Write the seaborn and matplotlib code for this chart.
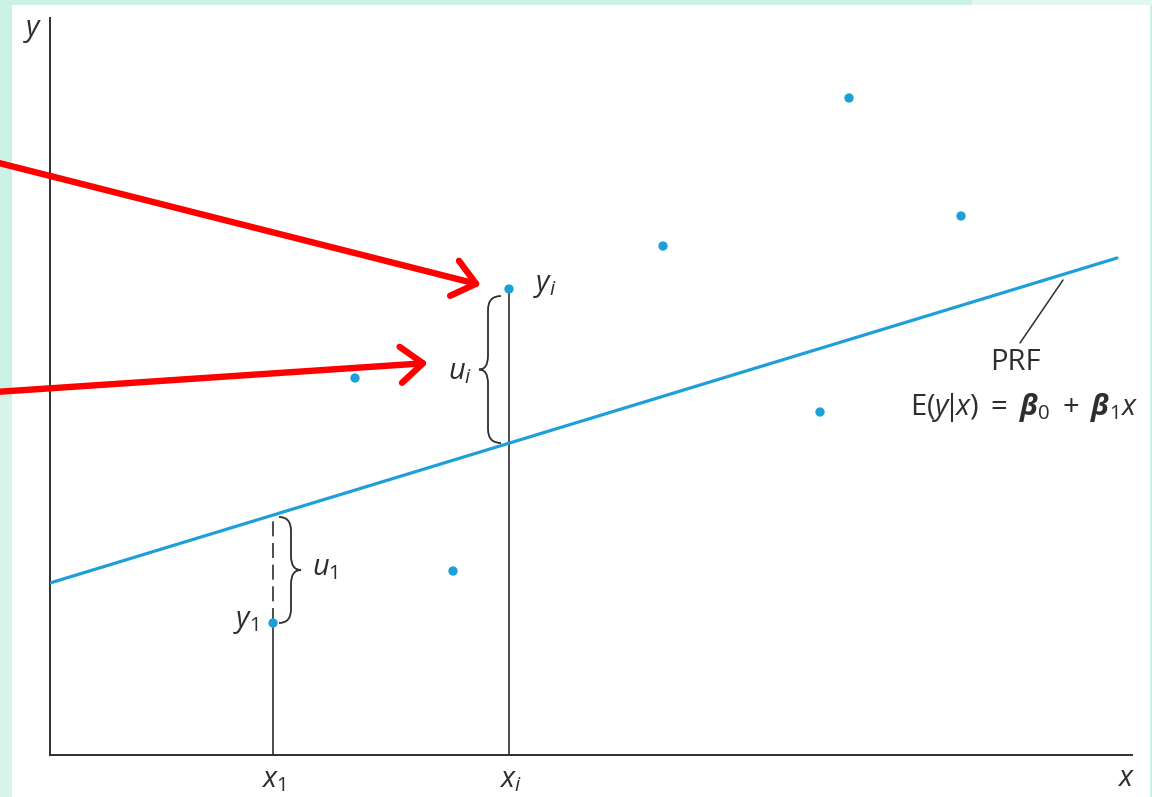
import matplotlib
matplotlib.use("Agg")
import matplotlib.pyplot as plt
from matplotlib.path import Path
from matplotlib.patches import PathPatch, Rectangle
import numpy as np
import seaborn as sns

# sample points, axis units (origin at the corner of the two axes)
POINT_X = [223, 305, 403, 459, 613, 770, 799, 911]
POINT_Y = [132, 377, 184, 466, 509, 343, 657, 539]

# population regression function
PRF_X = [0, 1067]
PRF_Y = [172, 497]

X1, Y1 = 223, 132
XI, YI = 459, 466

BLUE = "#1d9fd9"
INK = "#2e2e2e"
MINT = "#cbf0e6"

sns.set_style("white")
plt.rcParams["font.family"] = ["Open Sans", "DejaVu Sans"]
plt.rcParams["mathtext.fontset"] = "custom"
plt.rcParams["mathtext.rm"] = "Open Sans"
plt.rcParams["mathtext.it"] = "Open Sans:italic"
plt.rcParams["mathtext.bf"] = "Open Sans:bold:italic"

fig = plt.figure(figsize=(11.52, 7.97), dpi=100, facecolor=MINT)
W, H = 1152, 797
fig.patches.append(Rectangle((12 / W, 0), 1138 / W, 792 / H, transform=fig.transFigure,
                             facecolor="white", edgecolor="none", zorder=-2))
fig.patches.append(Rectangle((972 / W, 792 / H), 180 / W, 5 / H, transform=fig.transFigure,
                             facecolor="#e2f6f3", edgecolor="none", zorder=-2))
fig.patches.append(Rectangle((0, 0), 12 / W, 400 / H, transform=fig.transFigure,
                             facecolor="#d8f3eb", edgecolor="none", zorder=-2))

ax = fig.add_axes([50 / W, 42 / H, 1082 / W, 737 / H])
ax.set_zorder(2)
ax.set_xlim(0, 1082)
ax.set_ylim(0, 737)
ax.patch.set_alpha(0)
for s in ["top", "right"]:
    ax.spines[s].set_visible(False)
for s in ["left", "bottom"]:
    ax.spines[s].set_color(INK)
    ax.spines[s].set_linewidth(1.4)
ax.set_xticks([])
ax.set_yticks([])

# PRF and data
sns.lineplot(x=PRF_X, y=PRF_Y, ax=ax, color=BLUE, lw=2.3, zorder=3)

y_line_1 = np.interp(X1, PRF_X, PRF_Y)
ax.plot([X1, X1], [0, Y1], color=INK, lw=1.2, zorder=2)
ax.plot([X1, X1], [Y1, y_line_1], color=INK, lw=1.2, dashes=(9, 4), zorder=2)
ax.plot([XI, XI], [0, YI], color=INK, lw=1.2, zorder=2)

sns.scatterplot(x=POINT_X, y=POINT_Y, ax=ax, color=BLUE, s=45, edgecolor="none", zorder=5)


def brace(x_end, xs, x_tip, y_lo, y_hi, r=14):
    ym = (y_lo + y_hi) / 2
    verts = [(x_end, y_hi), (xs, y_hi), (xs, y_hi - r), (xs, ym + r),
             (xs, ym), (x_tip, ym), (xs, ym), (xs, ym - r),
             (xs, y_lo + r), (xs, y_lo), (x_end, y_lo)]
    codes = [Path.MOVETO, Path.CURVE3, Path.CURVE3, Path.LINETO,
             Path.CURVE3, Path.CURVE3, Path.CURVE3, Path.CURVE3,
             Path.LINETO, Path.CURVE3, Path.CURVE3]
    ax.add_patch(PathPatch(Path(verts, codes), fill=False, edgecolor=INK, lw=1.3, zorder=4))


brace(451, 438, 429, 312, 459)
brace(229, 241, 251, 132, 238)

# PRF leader
ax.plot([1013, 970], [475, 412], color=INK, lw=1.1, clip_on=False)

fs = 21
ax.text(-17, 725, "$y$", fontsize=fs, color=INK, ha="center", va="center", clip_on=False)
ax.text(1076, -23, "$x$", fontsize=fs, color=INK, ha="center", va="center", clip_on=False)
ax.text(223, -25, "$x_1$", fontsize=fs, color=INK, ha="center", va="center", clip_on=False)
ax.text(460, -25, "$x_i$", fontsize=fs, color=INK, ha="center", va="center", clip_on=False)
ax.text(483, 470, "$y_i$", fontsize=fs, color=INK, ha="left", va="center")
ax.text(422, 383, "$u_i$", fontsize=fs, color=INK, ha="right", va="center")
ax.text(262, 187, "$u_1$", fontsize=fs, color=INK, ha="left", va="center")
ax.text(208, 133, "$y_1$", fontsize=fs, color=INK, ha="right", va="center")
ax.text(965, 393, "PRF", fontsize=fs, color=INK, ha="center", va="center", clip_on=False)
ax.text(974, 348, r"$\mathrm{E}(y\!|\!x)\;=\;\mathbf{\beta}_0\;+\;\mathbf{\beta}_1x$", fontsize=fs,
        color=INK, ha="center", va="center", clip_on=False)

# red arrows
red = dict(arrowstyle="->, head_length=0.8, head_width=0.65", color="#ff0000", lw=4.6,
           mutation_scale=20, shrinkA=0, shrinkB=0)
ax.annotate("", xy=(431, 470), xytext=(-55, 593), arrowprops=red, annotation_clip=False)
ax.annotate("", xy=(378, 392), xytext=(-55, 363), arrowprops=red, annotation_clip=False)

fig.savefig("out.png", dpi=100, facecolor=fig.get_facecolor())
